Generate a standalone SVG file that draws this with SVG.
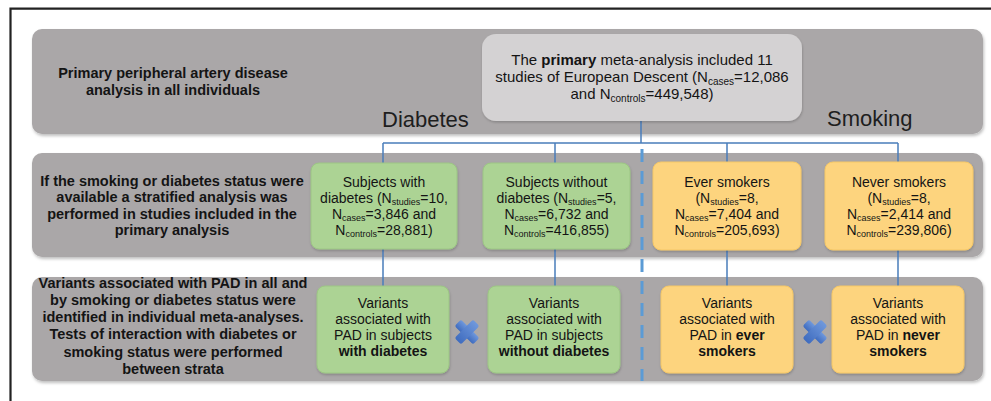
<svg xmlns="http://www.w3.org/2000/svg" width="991" height="401" viewBox="0 0 991 401">
<defs>
<filter id="sh" x="-5%" y="-10%" width="110%" height="130%">
<feDropShadow dx="1" dy="2" stdDeviation="1.5" flood-color="#000" flood-opacity="0.25"/>
</filter>
<filter id="sh2" x="-10%" y="-10%" width="120%" height="130%">
<feDropShadow dx="0.5" dy="1.5" stdDeviation="1.2" flood-color="#000" flood-opacity="0.2"/>
</filter>
<linearGradient id="xg" x1="0" y1="0" x2="0" y2="1">
<stop offset="0" stop-color="#6f98dc"/>
<stop offset="1" stop-color="#3f6cbf"/>
</linearGradient>
<style>
.band{fill:#aaa7a8;filter:url(#sh)}
.prim{fill:#d4d2d3;filter:url(#sh2)}
.green{fill:#acd394;stroke:#9cc684;stroke-width:1;filter:url(#sh2)}
.orange{fill:#fdd47e;stroke:#f5c766;stroke-width:1;filter:url(#sh2)}
.lbl{font-family:"Liberation Sans",Arial,sans-serif;font-weight:bold;font-size:14.5px;fill:#141414;text-anchor:middle}
.t{font-family:"Liberation Sans",Arial,sans-serif;font-size:14px;fill:#141414;text-anchor:middle}
.tp{font-family:"Liberation Sans",Arial,sans-serif;font-size:15px;fill:#141414;text-anchor:middle}
.big{font-family:"Liberation Sans",Arial,sans-serif;font-size:22px;fill:#1e1e1e}
.b{font-weight:bold}
.conn{fill:none;stroke:#4a7ebb;stroke-width:1.5}
.dash{fill:none;stroke:#5b9bd5;stroke-width:3;stroke-dasharray:13 9}
.x{fill:url(#xg)}
</style>
</defs>
<rect width="991" height="401" fill="#ffffff"/>
<path d="M10.5 401 V8.7 H991" fill="none" stroke="#222" stroke-width="2.2"/>

<g id="bands">
<rect class="band" x="32" y="29" width="951" height="105" rx="10"/>
<rect class="band" x="32" y="153" width="951" height="104" rx="10"/>
<rect class="band" x="32" y="277" width="951" height="104" rx="10"/>
</g>

<g id="row-labels">
<text class="lbl" x="173" y="77.5">Primary peripheral artery disease</text>
<text class="lbl" x="173" y="94.5">analysis in all individuals</text>
<text class="lbl" x="172" y="185.5">If the smoking or diabetes status were</text>
<text class="lbl" x="172" y="202">available a stratified analysis was</text>
<text class="lbl" x="172" y="218.5">performed in studies included in the</text>
<text class="lbl" x="172" y="235">primary analysis</text>
<text class="lbl" x="173" y="287.5">Variants associated with PAD in all and</text>
<text class="lbl" x="173" y="304.8">by smoking or diabetes status were</text>
<text class="lbl" x="173" y="322.1">identified in individual meta-analyses.</text>
<text class="lbl" x="173" y="339.4">Tests of interaction with diabetes or</text>
<text class="lbl" x="173" y="356.7">smoking status were performed</text>
<text class="lbl" x="173" y="374">between strata</text>
</g>

<g id="group-labels">
<text class="big" x="382" y="127">Diabetes</text>
<text class="big" x="827" y="126">Smoking</text>
</g>

<g id="connectors">
<path class="conn" d="M641 121 V143 M383 143 H898 M383 143 V163 M555 143 V163 M727 143 V162 M898 143 V162 M383 249 V286 M555 249 V286 M727 250 V286 M898 250 V286"/>
<path class="dash" d="M642 149 V381"/>
</g>

<g id="primary">
<rect class="prim" x="482" y="34" width="320" height="87" rx="14"/>
<text class="tp" x="642" y="65">The <tspan class="b">primary</tspan> meta-analysis included 11</text>
<text class="tp" x="642" y="82">studies of European Descent (N<tspan font-size="10" dy="2.5">cases</tspan><tspan dy="-2.5">=12,086</tspan></text>
<text class="tp" x="642" y="99">and N<tspan font-size="10" dy="2.5">controls</tspan><tspan dy="-2.5">=449,548)</tspan></text>
</g>

<g id="with-diabetes">
<rect class="green" x="311" y="163" width="146" height="86" rx="8"/>
<text class="t" x="384" y="187">Subjects with</text>
<text class="t" x="384" y="203">diabetes (N<tspan font-size="9" dy="2">studies</tspan><tspan dy="-2">=10,</tspan></text>
<text class="t" x="384" y="219">N<tspan font-size="9" dy="2">cases</tspan><tspan dy="-2">=3,846 and</tspan></text>
<text class="t" x="384" y="235">N<tspan font-size="9" dy="2">controls</tspan><tspan dy="-2">=28,881)</tspan></text>
</g>

<g id="without-diabetes">
<rect class="green" x="483" y="163" width="147" height="86" rx="8"/>
<text class="t" x="556.5" y="187">Subjects without</text>
<text class="t" x="556.5" y="203">diabetes (N<tspan font-size="9" dy="2">studies</tspan><tspan dy="-2">=5,</tspan></text>
<text class="t" x="556.5" y="219">N<tspan font-size="9" dy="2">cases</tspan><tspan dy="-2">=6,732 and</tspan></text>
<text class="t" x="556.5" y="235">N<tspan font-size="9" dy="2">controls</tspan><tspan dy="-2">=416,855)</tspan></text>
</g>

<g id="ever-smokers">
<rect class="orange" x="653" y="162" width="148" height="88" rx="8"/>
<text class="t" x="727" y="187">Ever smokers</text>
<text class="t" x="727" y="203">(N<tspan font-size="9" dy="2">studies</tspan><tspan dy="-2">=8,</tspan></text>
<text class="t" x="727" y="219">N<tspan font-size="9" dy="2">cases</tspan><tspan dy="-2">=7,404 and</tspan></text>
<text class="t" x="727" y="235">N<tspan font-size="9" dy="2">controls</tspan><tspan dy="-2">=205,693)</tspan></text>
</g>

<g id="never-smokers">
<rect class="orange" x="825" y="162" width="148" height="88" rx="8"/>
<text class="t" x="899" y="187">Never smokers</text>
<text class="t" x="899" y="203">(N<tspan font-size="9" dy="2">studies</tspan><tspan dy="-2">=8,</tspan></text>
<text class="t" x="899" y="219">N<tspan font-size="9" dy="2">cases</tspan><tspan dy="-2">=2,414 and</tspan></text>
<text class="t" x="899" y="235">N<tspan font-size="9" dy="2">controls</tspan><tspan dy="-2">=239,806)</tspan></text>
</g>

<g id="variants-with-diabetes">
<rect class="green" x="317" y="286" width="132" height="87" rx="8"/>
<text class="t" x="383" y="308">Variants</text>
<text class="t" x="383" y="324">associated with</text>
<text class="t" x="383" y="340">PAD in subjects</text>
<text class="t b" x="383" y="356">with diabetes</text>
</g>

<g id="variants-without-diabetes">
<rect class="green" x="488" y="286" width="132" height="87" rx="8"/>
<text class="t" x="554" y="308">Variants</text>
<text class="t" x="554" y="324">associated with</text>
<text class="t" x="554" y="340">PAD in subjects</text>
<text class="t b" x="554" y="356">without diabetes</text>
</g>

<g id="variants-ever-smokers">
<rect class="orange" x="661" y="286" width="132" height="87" rx="8"/>
<text class="t" x="727" y="308">Variants</text>
<text class="t" x="727" y="324">associated with</text>
<text class="t" x="727" y="340">PAD in <tspan class="b">ever</tspan></text>
<text class="t b" x="727" y="356">smokers</text>
</g>

<g id="variants-never-smokers">
<rect class="orange" x="832" y="286" width="132" height="87" rx="8"/>
<text class="t" x="898" y="308">Variants</text>
<text class="t" x="898" y="324">associated with</text>
<text class="t" x="898" y="340">PAD in <tspan class="b">never</tspan></text>
<text class="t b" x="898" y="356">smokers</text>
</g>

<g id="interaction-diabetes" transform="translate(467,332)">
<g transform="rotate(45)">
<rect class="x" x="-13" y="-4.5" width="26" height="9" rx="2"/>
<rect class="x" x="-4.5" y="-13" width="9" height="26" rx="2"/>
</g>
</g>
<g id="interaction-smoking" transform="translate(815,332)">
<g transform="rotate(45)">
<rect class="x" x="-13" y="-4.5" width="26" height="9" rx="2"/>
<rect class="x" x="-4.5" y="-13" width="9" height="26" rx="2"/>
</g>
</g>
</svg>
